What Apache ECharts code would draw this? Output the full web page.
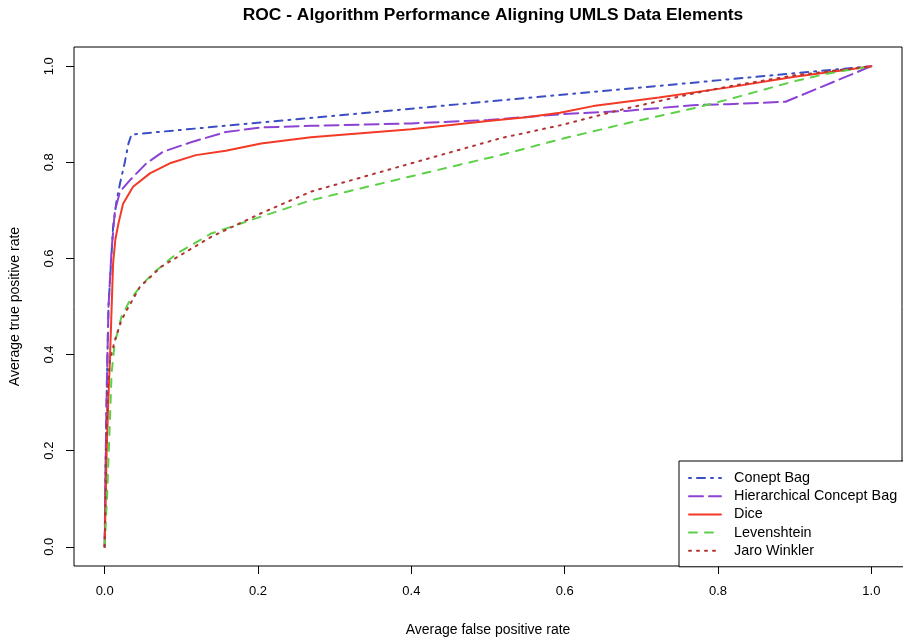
<!DOCTYPE html>
<html>
<head>
<meta charset="utf-8">
<script src="https://cdn.jsdelivr.net/npm/echarts@6/dist/echarts.min.js"></script>
<style>
  html, body { margin: 0; padding: 0; background: #fff; }
  #main { width: 903px; height: 642px; }
</style>
</head>
<body>
<div id="main"></div>
<script>
// tick positions on both axes
const ticks = [0, 0.2, 0.4, 0.6, 0.8, 1.0]

// Conept Bag
const bagFpr = [0, 0.001, 0.003, 0.005, 0.009, 0.011, 0.0156, 0.02, 0.026, 0.031, 0.035, 1.0]
const bagTpr = [0, 0.15, 0.35, 0.5, 0.61, 0.666, 0.721, 0.756, 0.798, 0.839, 0.858, 1.0]

// Hierarchical Concept Bag
const hierFpr = [0, 0.001, 0.003, 0.005, 0.009, 0.0134, 0.02, 0.033, 0.0545, 0.076, 0.115, 0.158, 0.204, 0.269, 0.4, 0.5, 0.594, 0.68, 0.767, 0.814, 0.888, 1.0]
const hierTpr = [0, 0.15, 0.35, 0.5, 0.617, 0.70, 0.739, 0.763, 0.798, 0.822, 0.843, 0.863, 0.8725, 0.876, 0.881, 0.888, 0.900, 0.907, 0.919, 0.921, 0.926, 1.0]

// Dice
const diceFpr = [0, 0.0026, 0.0048, 0.007, 0.011, 0.014, 0.018, 0.024, 0.037, 0.059, 0.085, 0.119, 0.158, 0.204, 0.269, 0.4, 0.5, 0.55, 0.594, 0.637, 0.723, 0.814, 0.90, 0.966, 1.0]
const diceTpr = [0, 0.2, 0.306, 0.396, 0.59, 0.64, 0.673, 0.714, 0.749, 0.777, 0.798, 0.815, 0.824, 0.839, 0.852, 0.869, 0.886, 0.894, 0.903, 0.917, 0.935, 0.956, 0.978, 0.992, 1.0]

// Levenshtein
const levFpr = [0, 0.003, 0.0048, 0.007, 0.009, 0.013, 0.022, 0.033, 0.046, 0.063, 0.094, 0.139, 0.204, 0.269, 0.4, 0.516, 0.594, 0.68, 0.767, 0.814, 0.90, 0.944, 1.0]
const levTpr = [0, 0.1, 0.175, 0.27, 0.36, 0.423, 0.479, 0.513, 0.541, 0.569, 0.61, 0.652, 0.687, 0.721, 0.771, 0.815, 0.848, 0.881, 0.912, 0.931, 0.969, 0.985, 1.0]

// Jaro Winkler
const jaroFpr = [0, 0.002, 0.004, 0.007, 0.0134, 0.022, 0.029, 0.046, 0.074, 0.139, 0.204, 0.269, 0.4, 0.516, 0.594, 0.68, 0.767, 0.814, 0.90, 1.0]
const jaroTpr = [0, 0.2, 0.33, 0.389, 0.43, 0.472, 0.493, 0.541, 0.583, 0.645, 0.694, 0.739, 0.798, 0.85, 0.877, 0.912, 0.943, 0.958, 0.981, 1.0]

const names = ['Conept Bag', 'Hierarchical Concept Bag', 'Dice', 'Levenshtein', 'Jaro Winkler']

const zip = (xs, ys) => xs.map((x, i) => [x, ys[i]])
const font = 'Liberation Sans, Arial, sans-serif'

function curve(name, data, color, dash) {
  return {
    name: name,
    type: 'line',
    data: data,
    symbol: 'none',
    animation: false,
    lineStyle: { color: color, width: 2, type: dash, cap: 'round' },
    itemStyle: { color: color }
  }
}

let option = {
  backgroundColor: '#fff',
  title: {
    text: 'ROC - Algorithm Performance Aligning UMLS Data Elements',
    left: 488,
    top: 2,
    textAlign: 'center',
    textStyle: { fontFamily: font, fontSize: 17.4, fontWeight: 'bold', color: '#000' }
  },
  legend: {
    data: names,
    orient: 'vertical',
    left: 679,
    top: 461,
    itemWidth: 32,
    itemHeight: 14,
    itemGap: 4.2,
    padding: [10, 8, 9, 9],
    borderColor: '#000',
    borderWidth: 1,
    borderRadius: 0,
    backgroundColor: '#fff',
    // hide the marker dot, keep the dashed line sample
    itemStyle: { color: 'rgba(0,0,0,0)', borderWidth: 0 },
    textStyle: { fontFamily: font, fontSize: 14.4, color: '#000', padding: [0, 0, 0, 8] }
  },
  grid: {
    left: 73,
    right: 1,
    top: 47,
    bottom: 75,
    show: true,
    borderColor: '#000',
    borderWidth: 1
  },
  xAxis: {
    type: 'value',
    min: -0.04,
    max: 1.04,
    name: 'Average false positive rate',
    nameLocation: 'middle',
    nameGap: 57,
    nameTextStyle: { fontFamily: font, fontSize: 14, color: '#000' },
    axisLine: { show: false, onZero: false },
    splitLine: { show: false },
    axisTick: { show: true, length: 8, customValues: ticks, lineStyle: { color: '#000' } },
    axisLabel: {
      customValues: ticks,
      margin: 19,
      fontFamily: font,
      fontSize: 13,
      color: '#000',
      formatter: v => v.toFixed(1)
    }
  },
  yAxis: {
    type: 'value',
    min: -0.04,
    max: 1.04,
    name: 'Average true positive rate',
    nameLocation: 'middle',
    nameGap: 52,
    nameTextStyle: { fontFamily: font, fontSize: 14, color: '#000' },
    axisLine: { show: false, onZero: false },
    splitLine: { show: false },
    axisTick: { show: true, length: 8, customValues: ticks, lineStyle: { color: '#000' } },
    axisLabel: {
      customValues: ticks,
      rotate: 90,
      margin: 18,
      fontFamily: font,
      fontSize: 13,
      color: '#000',
      formatter: v => v.toFixed(1)
    }
  },
  series: [
    curve(names[0], zip(bagFpr, bagTpr), '#3C4EC4', [2, 6, 8, 6]),
    curve(names[1], zip(hierFpr, hierTpr), '#8C42D2', [14, 6]),
    curve(names[2], zip(diceFpr, diceTpr), '#F23A26', 'solid'),
    curve(names[3], zip(levFpr, levTpr), '#5CD047', [8, 8]),
    curve(names[4], zip(jaroFpr, jaroTpr), '#B03434', [2, 6])
  ]
}

echarts.init(document.getElementById('main')).setOption(option)
</script>
</body>
</html>
